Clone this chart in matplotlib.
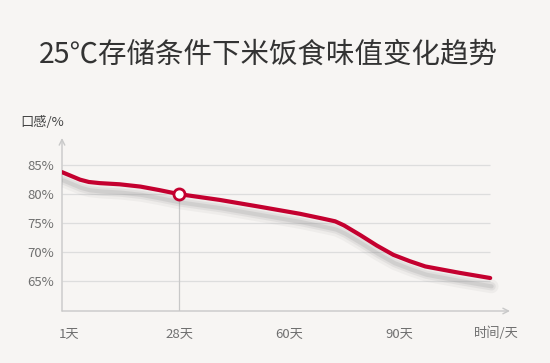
import matplotlib
matplotlib.use("Agg")
import matplotlib.pyplot as plt
import matplotlib.patheffects as pe

plt.rcParams['font.family'] = ['Noto Sans CJK SC', 'DejaVu Sans']

TITLE = "25℃存储条件下米饭食味值变化趋势"

# x positions: 0 = 1天, 1 = 28天, 2 = 60天, 3 = 90天 (evenly spaced categories)
tick_pos = [0, 1, 2, 3]
tick_labels = ["1天", "28天", "60天", "90天"]
y_ticks = [65, 70, 75, 80, 85]
y_tick_labels = ["65%", "70%", "75%", "80%", "85%"]

# curve
curve_x = [-0.064, 0.05, 0.1, 0.18, 0.28, 0.46, 0.65, 0.82, 1.0, 1.37, 1.74,
           2.1, 2.3, 2.42, 2.5, 2.65, 2.8, 2.95, 3.1, 3.24, 3.55, 3.83]
curve_y = [83.8, 82.9, 82.5, 82.1, 81.9, 81.7, 81.3, 80.7, 80.0, 79.0, 77.8,
           76.6, 75.8, 75.3, 74.6, 72.9, 71.1, 69.5, 68.4, 67.5, 66.4, 65.5]

marker_x = 1.0
marker_y = 80.0

RED = "#c4002f"
GRID = "#dddddd"
AXIS = "#c8c8c8"
TXT = "#707070"
BG = "#f7f5f3"

fig = plt.figure(figsize=(5.5, 3.63), dpi=100, facecolor=BG)
ax = fig.add_axes([62 / 550, 1 - 311 / 363, 448 / 550, 173 / 363])
ax.set_facecolor(BG)
ax.set_xlim(-0.064, 4.01)
ax.set_ylim(59.8, 89.7)

for s in ax.spines.values():
    s.set_visible(False)

# grid lines
ax.hlines(y_ticks, ax.get_xlim()[0], curve_x[-1], colors=GRID, lw=0.9, zorder=1)

# vertical guide at 28天
ax.vlines(marker_x, ax.get_ylim()[0], marker_y, colors=AXIS, lw=0.9, zorder=1)

# axes with arrows
ax.annotate("", xy=(1.0, 0), xytext=(0, 0), xycoords="axes fraction",
            arrowprops=dict(arrowstyle="->", color=AXIS, lw=1, shrinkA=0, shrinkB=0))
ax.annotate("", xy=(0, 1.0), xytext=(0, 0), xycoords="axes fraction",
            arrowprops=dict(arrowstyle="->", color=AXIS, lw=1, shrinkA=0, shrinkB=0))

ax.plot(curve_x, curve_y, color=RED, lw=3, solid_capstyle="round", zorder=3,
        path_effects=[
            pe.SimpleLineShadow(offset=(1, -6), shadow_color="#888888", alpha=0.08, linewidth=10),
            pe.SimpleLineShadow(offset=(1, -6), shadow_color="#888888", alpha=0.12, linewidth=6),
            pe.SimpleLineShadow(offset=(1, -6), shadow_color="#888888", alpha=0.18, linewidth=3),
            pe.Normal()])
ax.plot([marker_x], [marker_y], "o", ms=8, mfc="white", mec=RED, mew=2, zorder=4)

ax.set_xticks(tick_pos)
ax.set_xticklabels(tick_labels)
ax.set_yticks(y_ticks)
ax.set_yticklabels(y_tick_labels)
ax.tick_params(length=0, labelsize=9.5, labelcolor=TXT)
ax.tick_params(axis="x", pad=12)
ax.tick_params(axis="y", pad=6)

ax.text(3.89, -0.13, "时间/天", transform=ax.get_xaxis_transform(), ha="center",
        va="center", fontsize=9.5, color=TXT)
fig.text(20 / 550, 1 - 122 / 363, "口感/%", ha="left", va="center", fontsize=9.5,
         color="#444444")

fig.text(268 / 550, 1 - 55 / 363, TITLE, ha="center", va="center", fontsize=20.5,
         color="#333333", fontweight="light")

fig.savefig("out.png", dpi=100, facecolor=BG)
